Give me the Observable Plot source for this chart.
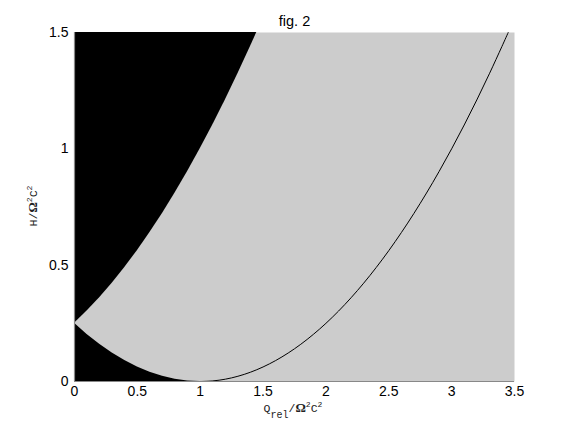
<!DOCTYPE html>
<html>
<head>
<meta charset="utf-8">
<script src="https://cdn.jsdelivr.net/npm/d3@7"></script>
<script src="https://cdn.jsdelivr.net/npm/@observablehq/plot@0.6"></script>
<style>
  html, body { margin: 0; padding: 0; background: white; }
</style>
</head>
<body>
<div id="chart"></div>
<script>
// Upper boundary (black region above it)
const upperQ = [0, 0.1, 0.2, 0.3, 0.4, 0.5, 0.6, 0.7, 0.8, 0.9, 1.0, 1.1, 1.2, 1.3, 1.4, 1.45];
const upperH = [0.25, 0.3025, 0.36, 0.4225, 0.49, 0.5625, 0.64, 0.7225, 0.81, 0.9025, 1.0, 1.1025, 1.21, 1.3225, 1.44, 1.5];
// Lower boundary curve
const lowerQ = [0, 0.1, 0.2, 0.3, 0.4, 0.5, 0.6, 0.7, 0.8, 0.9, 1.0, 1.1, 1.2, 1.3, 1.4, 1.5, 1.6, 1.7, 1.8, 1.9, 2.0, 2.1, 2.2, 2.3, 2.4, 2.5, 2.6, 2.7, 2.8, 2.9, 3.0, 3.1, 3.2, 3.3, 3.4, 3.45];
const lowerH = [0.25, 0.2025, 0.16, 0.1225, 0.09, 0.0625, 0.04, 0.0225, 0.01, 0.0025, 0, 0.0025, 0.01, 0.0225, 0.04, 0.0625, 0.09, 0.1225, 0.16, 0.2025, 0.25, 0.3025, 0.36, 0.4225, 0.49, 0.5625, 0.64, 0.7225, 0.81, 0.9025, 1.0, 1.1025, 1.21, 1.3225, 1.44, 1.5];
const xTicks = [0, 0.5, 1, 1.5, 2, 2.5, 3, 3.5];
const yTicks = [0, 0.5, 1, 1.5];
const yTop = 1.5;
const title = "fig. 2";

const upper = upperQ.map((q, i) => ({q, h: upperH[i], top: yTop}));
const lower = lowerQ.map((q, i) => ({q, h: lowerH[i], bottom: 0}));
const lowerLeft = lower.filter(d => d.q <= 1);
const lowerRight = lower.filter(d => d.q >= 1);

const plot = Plot.plot({
  width: 568,
  height: 427,
  marginLeft: 74,
  marginRight: 54,
  marginTop: 32,
  marginBottom: 46,
  x: {domain: [0, 3.5]},
  y: {domain: [0, 1.5]},
  style: {fontFamily: "'Liberation Sans', Arial, sans-serif", fontSize: "14px", background: "white", color: "black"},
  marks: [
    Plot.frame({fill: "#cccccc", stroke: null}),
    Plot.areaY(upper, {x: "q", y1: "h", y2: "top", fill: "black"}),
    Plot.areaY(lowerLeft, {x: "q", y1: "bottom", y2: "h", fill: "black"}),
    Plot.line(lowerRight, {x: "q", y: "h", stroke: "black", strokeWidth: 1, curve: "catmull-rom"}),
    Plot.ruleX([0], {stroke: "#888888", strokeWidth: 1.2}),
    Plot.ruleY([0], {stroke: "#888888", strokeWidth: 1.2}),
    Plot.axisX({ticks: xTicks, tickSize: 0, tickPadding: 5, tickFormat: d => String(d), label: null, fontSize: 14}),
    Plot.axisY({ticks: yTicks, tickSize: 0, tickPadding: 6, tickFormat: d => String(d), label: null, fontSize: 14}),
    Plot.text([title], {frameAnchor: "top", dy: -17, fontSize: 14.5})
  ]
});
document.getElementById("chart").appendChild(plot);

// Axis labels with subscripts / superscripts
const svg = d3.select(plot);
const mono = "'Liberation Mono', 'DejaVu Sans Mono', monospace";
const xl = svg.append("text")
  .attr("x", 293).attr("y", 412)
  .attr("text-anchor", "middle")
  .attr("font-family", mono).attr("font-size", 11.5).attr("fill", "#222");
xl.append("tspan").text("Q");
xl.append("tspan").attr("dy", 6).attr("font-size", 10).text("rel");
xl.append("tspan").attr("dy", -6).text("/");
xl.append("tspan").attr("font-weight", "bold").attr("font-family", "'Liberation Serif', serif").attr("font-size", 13).text("Ω");
xl.append("tspan").attr("dy", -5).attr("font-size", 8).text("2");
xl.append("tspan").attr("dy", 5).text("C");
xl.append("tspan").attr("dy", -5).attr("font-size", 8).text("2");

const yl = svg.append("text")
  .attr("transform", "translate(37,206) rotate(-90)")
  .attr("text-anchor", "middle")
  .attr("font-family", mono).attr("font-size", 11.5).attr("fill", "#222");
yl.append("tspan").text("H/");
yl.append("tspan").attr("font-weight", "bold").attr("font-family", "'Liberation Serif', serif").attr("font-size", 13).text("Ω");
yl.append("tspan").attr("dy", -5).attr("font-size", 8).text("2");
yl.append("tspan").attr("dy", 5).text("C");
yl.append("tspan").attr("dy", -5).attr("font-size", 8).text("2");
</script>
</body>
</html>
